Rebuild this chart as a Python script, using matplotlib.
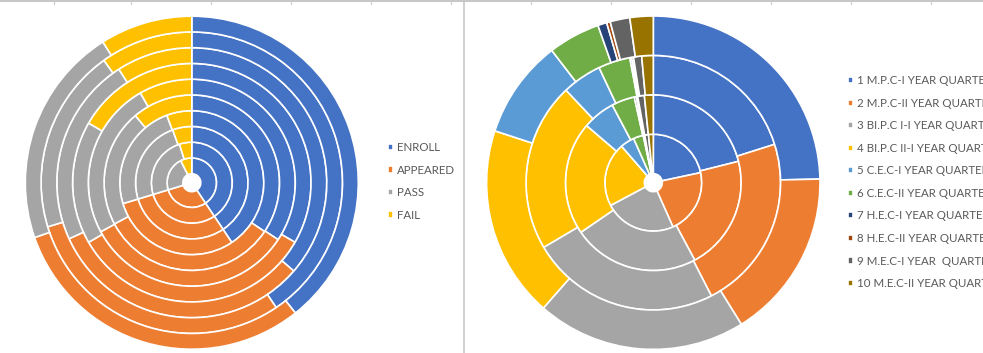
import matplotlib.pyplot as plt

# data
status = ["ENROLL", "APPEARED", "PASS", "FAIL"]
courses = [
    "1 M.P.C-I YEAR QUARTERLY",
    "2 M.P.C-II YEAR QUARTERLY",
    "3 BI.P.C I-I YEAR QUARTERLY",
    "4 BI.P.C II-I YEAR QUARTERLY",
    "5 C.E.C-I YEAR QUARTERLY",
    "6 C.E.C-II YEAR QUARTERLY",
    "7 H.E.C-I YEAR QUARTERLY",
    "8 H.E.C-II YEAR QUARTERLY",
    "9 M.E.C-I YEAR  QUARTERLY",
    "10 M.E.C-II YEAR QUARTERLY",
]
enroll = [780, 780, 860, 770, 170, 120, 10, 8, 45, 57]
appeared = [570, 570, 629, 563, 162, 115, 10, 7, 33, 44]
passed = [428, 475, 512, 456, 107, 86, 5, 5, 22, 31]
failed = [142, 95, 117, 107, 55, 29, 5, 2, 11, 13]

office = ["#4472C4", "#ED7D31", "#A5A5A5", "#FFC000", "#5B9BD5",
          "#70AD47", "#264478", "#9E480E", "#636363", "#997300"]
text_col = "#595959"

W, H = 983, 353
fig = plt.figure(figsize=(W / 100, H / 100), dpi=100)
plt.rcParams['font.family'] = ['Lato', 'DejaVu Sans']


def donut_axes(cx, cy, r):
    ax = fig.add_axes([(cx - r) / W, (H - cy - r) / H, 2 * r / W, 2 * r / H])
    return ax


def ring(ax, values, colors, radius, width):
    wedges, _ = ax.pie(values, radius=radius, colors=colors, startangle=90,
                       counterclock=False,
                       wedgeprops=dict(width=width, edgecolor="white", linewidth=1.2))
    return wedges


# left chart: one ring per course, split by status
ax1 = donut_axes(191.8, 182.7, 166.5)
hole = 0.054
w1 = (1 - hole) / len(courses)
for i in range(len(courses)):
    vals = [enroll[i], appeared[i], passed[i], failed[i]]
    h1 = ring(ax1, vals, office[:4], hole + (i + 1) * w1, w1)
ax1.set_xlim(-1, 1)
ax1.set_ylim(-1, 1)
ax1.set_aspect("equal")

# right chart: one ring per status, split by course
ax2 = donut_axes(653.3, 182.7, 166.7)
cols = [enroll, appeared, passed, failed]
w2 = (1 - hole) / len(cols)
for j, col in enumerate(cols):
    h2 = ring(ax2, col, office, hole + (j + 1) * w2, w2)
ax2.set_xlim(-1, 1)
ax2.set_ylim(-1, 1)
ax2.set_aspect("equal")

leg_kw = dict(loc="upper left", frameon=False, fontsize=8.3, handlelength=0.45,
              handleheight=0.45, handletextpad=0.35, borderpad=0,
              borderaxespad=0, labelcolor=text_col, labelspacing=1.0)
fig.legend(h1, status, bbox_to_anchor=(388 / W, 1 - 142 / H), **leg_kw)
fig.legend(h2, courses, bbox_to_anchor=(848 / W, 1 - 75.3 / H), **leg_kw)

# spreadsheet bits around the charts
bg = fig.add_axes([0, 0, 1, 1], zorder=-1)
bg.set_xlim(0, W)
bg.set_ylim(H, 0)
bg.axis("off")
bg.axhline(0.8, color="#c8c8c8", lw=1.5)
bg.axvline(464, color="#c8c8c8", lw=1.2)
for x in [54, 131, 211, 291, 371, 451, 531, 611, 691, 771, 851, 931]:
    bg.plot([x, x], [0, 4], color="#c8c8c8", lw=0.8)

fig.savefig("out.png", dpi=100)
